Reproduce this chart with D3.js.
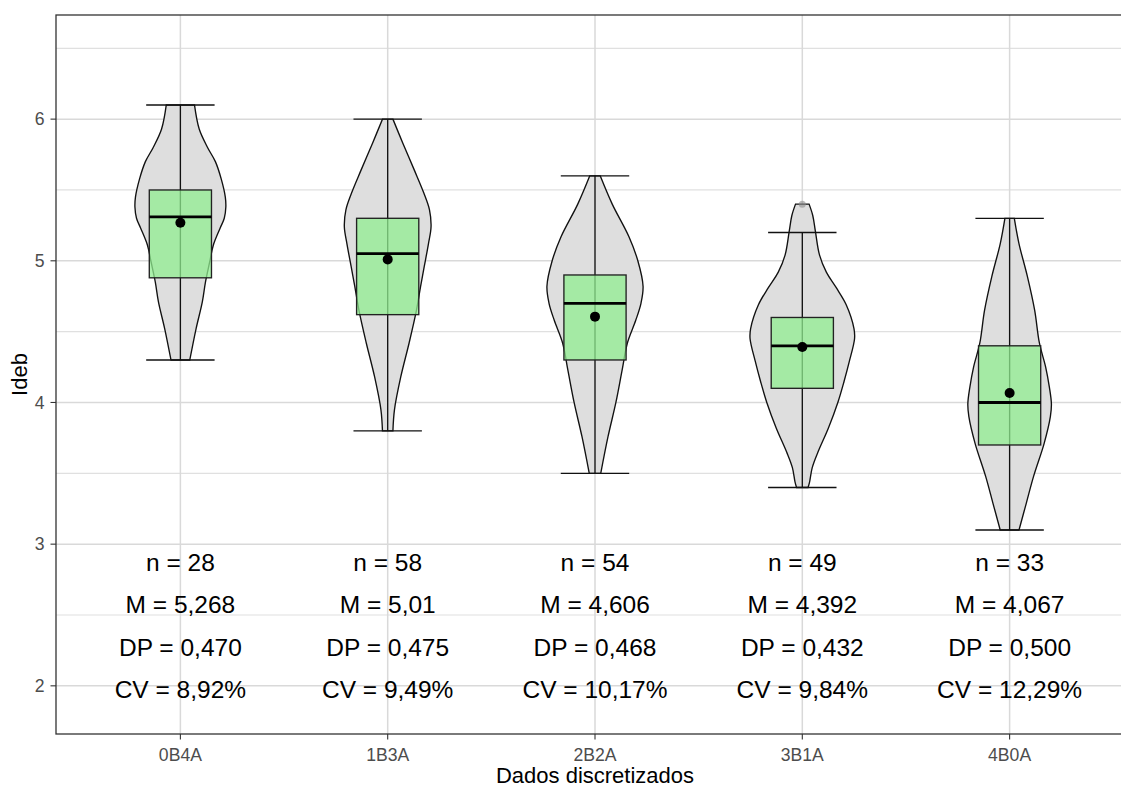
<!DOCTYPE html>
<html>
<head>
<meta charset="utf-8">
<script src="https://cdn.jsdelivr.net/npm/d3@7/dist/d3.min.js"></script>
<style>
  html, body { margin: 0; padding: 0; background: #ffffff; }
  svg { display: block; font-family: "Liberation Sans", Arial, Helvetica, sans-serif; }
</style>
</head>
<body>
<svg id="chart" width="1121" height="787"></svg>
<script>
// ---------------- DATA ----------------
const categories = ["0B4A", "1B3A", "2B2A", "3B1A", "4B0A"];
const whiskerLow  = [4.30, 3.80, 3.50, 3.40, 3.10];
const whiskerHigh = [6.10, 6.00, 5.60, 5.20, 5.30];
const q1Values    = [4.88, 4.62, 4.30, 4.10, 3.70];
const medians     = [5.31, 5.05, 4.70, 4.40, 4.00];
const q3Values    = [5.50, 5.30, 4.90, 4.60, 4.40];
const means       = [5.268, 5.01, 4.606, 4.392, 4.067];
const outliers    = [[], [], [], [5.40], []];

// violin outlines: [Ideb value, relative density]
const violin0B4A = [[6.10,0.27],[5.93,0.36],[5.80,0.52],[5.70,0.67],[5.58,0.78],[5.45,0.86],[5.38,0.87],[5.30,0.84],[5.23,0.76],[5.11,0.63],[4.99,0.56],[4.85,0.48],[4.71,0.42],[4.52,0.30],[4.30,0.18]];
const violin1B3A = [[6.00,0.10],[5.83,0.29],[5.64,0.51],[5.48,0.69],[5.36,0.80],[5.24,0.83],[5.12,0.78],[4.96,0.70],[4.82,0.63],[4.65,0.55],[4.42,0.41],[4.18,0.25],[3.95,0.13],[3.80,0.10]];
const violin2B2A = [[5.60,0.10],[5.40,0.33],[5.17,0.65],[5.00,0.82],[4.82,0.92],[4.70,0.88],[4.58,0.78],[4.42,0.62],[4.23,0.52],[4.00,0.40],[3.76,0.25],[3.50,0.11]];
const violin3B1A = [[5.40,0.13],[5.32,0.20],[5.21,0.25],[5.04,0.33],[4.92,0.46],[4.81,0.65],[4.69,0.84],[4.52,0.99],[4.45,1.00],[4.29,0.90],[4.15,0.80],[4.00,0.68],[3.82,0.50],[3.65,0.30],[3.54,0.19],[3.44,0.14],[3.40,0.11]];
const violin4B0A = [[5.30,0.09],[5.12,0.18],[4.89,0.34],[4.65,0.48],[4.42,0.57],[4.25,0.69],[4.11,0.76],[3.99,0.80],[3.90,0.78],[3.71,0.66],[3.48,0.46],[3.29,0.32],[3.10,0.18]];
const violins = [violin0B4A, violin1B3A, violin2B2A, violin3B1A, violin4B0A];

// annotation labels
const nLabels  = ["n = 28", "n = 58", "n = 54", "n = 49", "n = 33"];
const mLabels  = ["M = 5,268", "M = 5,01", "M = 4,606", "M = 4,392", "M = 4,067"];
const dpLabels = ["DP = 0,470", "DP = 0,475", "DP = 0,468", "DP = 0,432", "DP = 0,500"];
const cvLabels = ["CV = 8,92%", "CV = 9,49%", "CV = 10,17%", "CV = 9,84%", "CV = 12,29%"];
const labelYs  = [2.9, 2.6, 2.3, 2.0];

const yTicks = [2, 3, 4, 5, 6];
const yMinorTicks = [2.5, 3.5, 4.5, 5.5, 6.5];
const yDomain = [1.66, 6.735];
const xTitle = "Dados discretizados";
const yTitle = "Ideb";

// ---------------- LAYOUT ----------------
const svg = d3.select("#chart");
const panel = { left: 56, right: 1134, top: 15, bottom: 734 };

const x = d3.scalePoint().domain(categories).range([panel.left, panel.right]).padding(0.6);
const step = x.step();
const y = d3.scaleLinear().domain(yDomain).range([panel.bottom, panel.top]);
const wScale = d3.scaleLinear().domain([0, 1]).range([0, 0.252 * step]);

const defs = svg.append("defs");
defs.append("clipPath").attr("id", "panelClip")
  .append("rect").attr("x", panel.left).attr("y", panel.top)
  .attr("width", panel.right - panel.left).attr("height", panel.bottom - panel.top);

const g = svg.append("g").attr("clip-path", "url(#panelClip)");

g.append("rect").attr("x", panel.left).attr("y", panel.top)
  .attr("width", panel.right - panel.left).attr("height", panel.bottom - panel.top)
  .attr("fill", "#ffffff");

// gridlines
g.selectAll(".minor").data(yMinorTicks).enter().append("line")
  .attr("x1", panel.left).attr("x2", panel.right)
  .attr("y1", d => y(d)).attr("y2", d => y(d))
  .attr("stroke", "#e0e0e0").attr("stroke-width", 1.2);
g.selectAll(".majorY").data(yTicks).enter().append("line")
  .attr("x1", panel.left).attr("x2", panel.right)
  .attr("y1", d => y(d)).attr("y2", d => y(d))
  .attr("stroke", "#d9d9d9").attr("stroke-width", 1.5);
g.selectAll(".majorX").data(categories).enter().append("line")
  .attr("x1", d => x(d)).attr("x2", d => x(d))
  .attr("y1", panel.top).attr("y2", panel.bottom)
  .attr("stroke", "#d9d9d9").attr("stroke-width", 1.5);

// violins
categories.forEach((c, i) => {
  const cx = x(c);
  const area = d3.area()
    .y(d => y(d[0]))
    .x0(d => cx - wScale(d[1]))
    .x1(d => cx + wScale(d[1]))
    .curve(d3.curveCatmullRom.alpha(0.5));
  g.append("path").datum(violins[i])
    .attr("d", area)
    .attr("fill", "#dedede")
    .attr("stroke", "#111111")
    .attr("stroke-width", 1.35);
});

// outliers
categories.forEach((c, i) => {
  outliers[i].forEach(v => {
    g.append("circle").attr("cx", x(c)).attr("cy", y(v)).attr("r", 3.5)
      .attr("fill", "#8c8c8c").attr("fill-opacity", 0.6);
  });
});

// error bars (whiskers with caps)
const capHalf = 0.165 * step;
categories.forEach((c, i) => {
  const cx = x(c);
  g.append("line").attr("x1", cx).attr("x2", cx)
    .attr("y1", y(whiskerLow[i])).attr("y2", y(whiskerHigh[i]))
    .attr("stroke", "#111").attr("stroke-width", 1.35);
  [whiskerLow[i], whiskerHigh[i]].forEach(v => {
    g.append("line").attr("x1", cx - capHalf).attr("x2", cx + capHalf)
      .attr("y1", y(v)).attr("y2", y(v))
      .attr("stroke", "#111").attr("stroke-width", 1.35);
  });
});

// boxes
const boxHalf = 0.15 * step;
categories.forEach((c, i) => {
  const cx = x(c);
  g.append("rect")
    .attr("x", cx - boxHalf).attr("width", 2 * boxHalf)
    .attr("y", y(q3Values[i])).attr("height", y(q1Values[i]) - y(q3Values[i]))
    .attr("fill", "#90ee90").attr("fill-opacity", 0.75)
    .attr("stroke", "#222").attr("stroke-width", 1.35);
  g.append("line")
    .attr("x1", cx - boxHalf).attr("x2", cx + boxHalf)
    .attr("y1", y(medians[i])).attr("y2", y(medians[i]))
    .attr("stroke", "#000").attr("stroke-width", 2.8);
  g.append("circle").attr("cx", cx).attr("cy", y(means[i])).attr("r", 5)
    .attr("fill", "#000");
});

// annotations
const labelSets = [nLabels, mLabels, dpLabels, cvLabels];
labelSets.forEach((set, k) => {
  g.selectAll(null).data(categories).enter().append("text")
    .attr("x", d => x(d))
    .attr("y", y(labelYs[k]) + 12.6)
    .attr("text-anchor", "middle")
    .attr("font-size", "24.5px")
    .attr("fill", "#000")
    .text((d, i) => set[i]);
});

// panel border
svg.append("rect").attr("x", panel.left).attr("y", panel.top)
  .attr("width", panel.right - panel.left).attr("height", panel.bottom - panel.top)
  .attr("fill", "none").attr("stroke", "#333333").attr("stroke-width", 1.3);

// y axis ticks and labels
svg.selectAll(".ytick").data(yTicks).enter().append("line")
  .attr("x1", panel.left - 5.5).attr("x2", panel.left)
  .attr("y1", d => y(d)).attr("y2", d => y(d))
  .attr("stroke", "#333").attr("stroke-width", 1.1);
svg.selectAll(".ylab").data(yTicks).enter().append("text")
  .attr("x", panel.left - 11.5).attr("y", d => y(d) + 6.3)
  .attr("text-anchor", "end").attr("font-size", "17.6px").attr("fill", "#4d4d4d")
  .text(d => d);

// x axis ticks and labels
svg.selectAll(".xtick").data(categories).enter().append("line")
  .attr("x1", d => x(d)).attr("x2", d => x(d))
  .attr("y1", panel.bottom).attr("y2", panel.bottom + 5.5)
  .attr("stroke", "#333").attr("stroke-width", 1.1);
svg.selectAll(".xlab").data(categories).enter().append("text")
  .attr("x", d => x(d)).attr("y", panel.bottom + 27)
  .attr("text-anchor", "middle").attr("font-size", "17.6px").attr("fill", "#4d4d4d")
  .text(d => d);

// axis titles
svg.append("text")
  .attr("x", (panel.left + panel.right) / 2).attr("y", 783)
  .attr("text-anchor", "middle").attr("font-size", "22px").attr("fill", "#000")
  .text(xTitle);
svg.append("text")
  .attr("transform", `translate(27, ${(panel.top + panel.bottom) / 2}) rotate(-90)`)
  .attr("text-anchor", "middle").attr("font-size", "22px").attr("fill", "#000")
  .text(yTitle);
</script>
</body>
</html>
